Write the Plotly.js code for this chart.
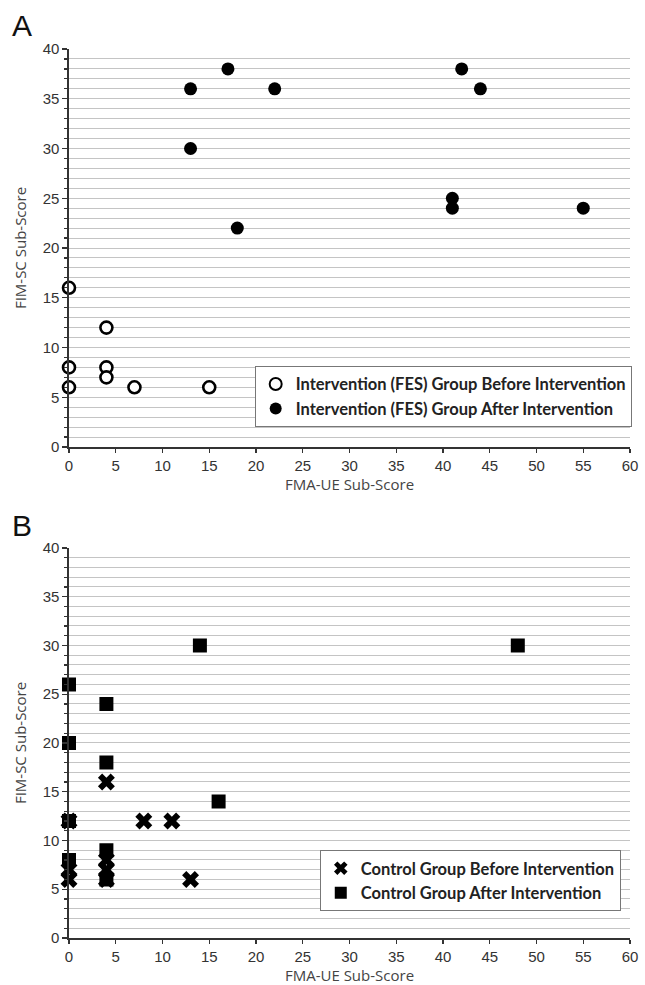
<!DOCTYPE html>
<html>
<head>
<meta charset="utf-8">
<script src="https://cdn.plot.ly/plotly-3.0.1.min.js"></script>
<style>
  html, body { margin: 0; padding: 0; background: #fff; }
  #chart { width: 645px; height: 985px; }
</style>
</head>
<body>
<div id="chart"></div>
<script>
// Panel A: intervention (FES) group, FMA-UE vs FIM-SC
const fesBeforeX = [0, 0, 0, 4, 4, 4, 7, 15];
const fesBeforeY = [16, 8, 6, 12, 8, 7, 6, 6];
const fesAfterX = [13, 17, 22, 13, 18, 42, 44, 41, 41, 55];
const fesAfterY = [36, 38, 36, 30, 22, 38, 36, 25, 24, 24];

// Panel B: control group
const ctlBeforeX = [0, 0, 0, 4, 4, 4, 4, 8, 11, 13];
const ctlBeforeY = [12, 7, 6, 16, 8, 7, 6, 12, 12, 6];
const ctlAfterX = [0, 0, 0, 0, 4, 4, 4, 4, 14, 16, 48];
const ctlAfterY = [26, 20, 12, 8, 24, 18, 9, 6, 30, 14, 30];

const xTickVals = [0, 5, 10, 15, 20, 25, 30, 35, 40, 45, 50, 55, 60];
const yTickVals = [0, 5, 10, 15, 20, 25, 30, 35, 40];

const xTitle = 'FMA-UE Sub-Score';
const yTitle = 'FIM-SC Sub-Score';

const traces = [
  {
    x: fesBeforeX, y: fesBeforeY, type: 'scatter', mode: 'markers',
    name: 'Intervention (FES) Group Before Intervention',
    xaxis: 'x', yaxis: 'y', legend: 'legend', cliponaxis: false,
    marker: { symbol: 'circle', size: 12, color: '#ffffff', line: { color: '#000', width: 2.6 } }
  },
  {
    x: fesAfterX, y: fesAfterY, type: 'scatter', mode: 'markers',
    name: 'Intervention (FES) Group After Intervention',
    xaxis: 'x', yaxis: 'y', legend: 'legend', cliponaxis: false,
    marker: { symbol: 'circle', size: 13, color: '#000' }
  },
  {
    x: ctlBeforeX, y: ctlBeforeY, type: 'scatter', mode: 'markers',
    name: 'Control Group Before Intervention',
    xaxis: 'x2', yaxis: 'y2', legend: 'legend2', cliponaxis: false,
    marker: { symbol: 'x', size: 15, color: '#000' }
  },
  {
    x: ctlAfterX, y: ctlAfterY, type: 'scatter', mode: 'markers',
    name: 'Control Group After Intervention',
    xaxis: 'x2', yaxis: 'y2', legend: 'legend2', cliponaxis: false,
    marker: { symbol: 'square', size: 14, color: '#000' }
  }
];

const tickFont = { family: 'Liberation Sans, Arial, sans-serif', size: 15, color: '#333' };
const titleFont = { family: 'Open Sans, Lato, sans-serif', size: 15, color: '#444' };

function xAxis(anchor) {
  return {
    anchor: anchor, domain: [0, 1], range: [0, 60], fixedrange: true,
    tickmode: 'array', tickvals: xTickVals, ticktext: xTickVals.map(String),
    ticks: 'outside', ticklen: 4, tickwidth: 1.2, tickcolor: '#333',
    showline: true, linecolor: '#333', linewidth: 1.6,
    showgrid: false, zeroline: false,
    tickfont: tickFont,
    title: { text: xTitle, font: titleFont, standoff: 0 }
  };
}
function yAxis(anchor, domain) {
  return {
    anchor: anchor, domain: domain, range: [0, 40], fixedrange: true,
    tickmode: 'array', tickvals: yTickVals, ticktext: yTickVals.map(String),
    ticks: 'outside', ticklen: 5, tickwidth: 1.2, tickcolor: '#333',
    showline: true, linecolor: '#333', linewidth: 1.6,
    showgrid: true, gridcolor: '#c4c4c4', gridwidth: 1,
    minor: { dtick: 1, showgrid: true, gridcolor: '#c4c4c4', gridwidth: 1,
             ticks: 'outside', ticklen: 3, tickcolor: '#333' },
    zeroline: false,
    tickfont: tickFont,
    title: { text: yTitle, font: titleFont, standoff: 12 }
  };
}

const legendFont = { family: 'Lato, Open Sans, sans-serif', size: 16.5, color: '#222', weight: 'bold' };

const layout = {
  width: 645, height: 985,
  margin: { l: 69, r: 15, t: 49, b: 47 },
  paper_bgcolor: '#fff', plot_bgcolor: '#fff',
  showlegend: true,
  xaxis: xAxis('y'),
  yaxis: yAxis('x', [0.5523, 1]),
  xaxis2: xAxis('y2'),
  yaxis2: yAxis('x2', [0, 0.4387]),
  legend: {
    x: 0.331, y: 0.6437, xanchor: 'left', yanchor: 'top',
    bgcolor: '#fff', bordercolor: '#777', borderwidth: 1,
    font: legendFont, itemsizing: 'constant', tracegroupgap: 0,
    itemwidth: 30
  },
  legend2: {
    x: 0.447, y: 0.099, xanchor: 'left', yanchor: 'top',
    bgcolor: '#fff', bordercolor: '#777', borderwidth: 1,
    font: legendFont, itemsizing: 'constant', tracegroupgap: 0,
    itemwidth: 30
  },
  annotations: [
    { text: 'A', xref: 'paper', yref: 'paper', x: -0.105, y: 1.047,
      xanchor: 'left', yanchor: 'top', showarrow: false,
      font: { family: 'Liberation Sans, Arial, sans-serif', size: 30, color: '#111' } },
    { text: 'B', xref: 'paper', yref: 'paper', x: -0.105, y: 0.4843,
      xanchor: 'left', yanchor: 'top', showarrow: false,
      font: { family: 'Liberation Sans, Arial, sans-serif', size: 30, color: '#111' } }
  ]
};

Plotly.newPlot('chart', traces, layout, { displayModeBar: false, staticPlot: true });
</script>
</body>
</html>
